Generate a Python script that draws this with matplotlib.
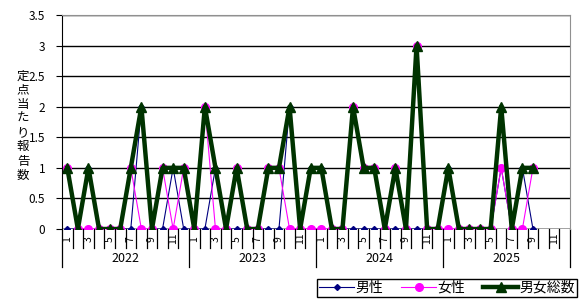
import numpy as np
import matplotlib.pyplot as plt

plt.rcParams['font.family'] = ['Noto Sans CJK JP', 'DejaVu Sans']

# monthly values, 2022-01 .. 2025-12 (no data after 2025-09)
years = ['2022', '2023', '2024', '2025']
months = list(range(1, 13))
male = [0, 0, 1, 0, 0, 0, 0, 2, 0, 0, 1, 0,
        0, 0, 1, 0, 0, 0, 0, 0, 0, 2, 0, 1,
        1, 0, 0, 0, 0, 0, 0, 0, 0, 0, 0, 0,
        1, 0, 0, 0, 0, 1, 0, 1, 0, None, None, None]
female = [1, 0, 0, 0, 0, 0, 1, 0, 0, 1, 0, 1,
          0, 2, 0, 0, 1, 0, 0, 1, 1, 0, 0, 0,
          0, 0, 0, 2, 1, 1, 0, 1, 0, 3, 0, 0,
          0, 0, 0, 0, 0, 1, 0, 0, 1, None, None, None]
total = [1, 0, 1, 0, 0, 0, 1, 2, 0, 1, 1, 1,
         0, 2, 1, 0, 1, 0, 0, 1, 1, 2, 0, 1,
         1, 0, 0, 2, 1, 1, 0, 1, 0, 3, 0, 0,
         1, 0, 0, 0, 0, 2, 0, 1, 1, None, None, None]

male = np.array(male, dtype=float)
female = np.array(female, dtype=float)
total = np.array(total, dtype=float)
x = np.arange(len(male))

fig = plt.figure(figsize=(5.79, 2.99), dpi=100)
ax = fig.add_axes([62 / 579, 70 / 299, 508 / 579, 214 / 299])

ax.plot(x, male, color='#000080', lw=0.8, marker='D', ms=3, label='男性')
ax.plot(x, female, color='#FF00FF', lw=0.8, marker='o', ms=5.5, label='女性')
ax.plot(x, total, color='#003300', lw=3.2, marker='^', ms=6.5, label='男女総数')

ax.set_xlim(-0.5, len(x) - 0.5)
ax.set_ylim(0, 3.5)
ax.set_yticks(np.arange(0, 3.51, 0.5))
ax.set_yticklabels(['0', '0.5', '1', '1.5', '2', '2.5', '3', '3.5'], fontsize=8.5)
ax.tick_params(axis='y', length=4, width=0.8, pad=8)
ax.yaxis.grid(True, color='black', lw=1)
ax.set_axisbelow(True)
ax.set_xticks([])
for s in ['top', 'right']:
    ax.spines[s].set_color('#909090')
ax.spines['left'].set_color('black')
ax.spines['bottom'].set_visible(False)
ax.axhline(0, color='black', lw=1, zorder=1.5)

# two-level category axis
tr = ax.get_xaxis_transform()
for b in np.arange(-0.5, len(x), 1.0):
    if int(b + 0.5) % 12 == 0:
        ax.plot([b, b], [0, -0.178], color='black', lw=0.9, transform=tr, clip_on=False)
    else:
        ax.plot([b, b], [0, -0.089], color='black', lw=0.9, transform=tr, clip_on=False)
for i in range(len(x)):
    m = months[i % 12]
    if m % 2 == 1:
        ax.text(i, -0.045, str(m), transform=tr, rotation=90, fontsize=7.5,
                ha='center', va='center')
for k, yr in enumerate(years):
    ax.text(k * 12 + 5.5, -0.136, yr, transform=tr, fontsize=9,
            ha='center', va='center')

# stacked vertical y label
fig.text(23 / 579, 0.58, '\n'.join('定点当たり報告数'), fontsize=9,
         ha='center', va='center', linespacing=1.12)

leg = fig.legend(loc='lower right', bbox_to_anchor=(577 / 579, 2 / 299), ncol=3,
                 fontsize=10, fancybox=False, framealpha=1, edgecolor='black',
                 handlelength=2.5, handletextpad=0.1, columnspacing=1.3,
                 borderpad=0.15, borderaxespad=0)
leg.get_frame().set_linewidth(1)

fig.savefig('out.png', dpi=100)
